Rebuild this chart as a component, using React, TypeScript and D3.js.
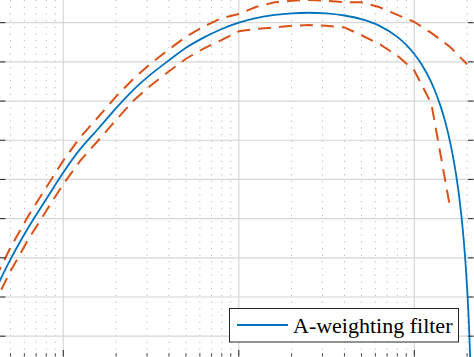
import React from "react";
import * as d3 from "d3";

const W = 474;
const H = 357;

// Blue curve: digital A-weighting filter response (Hz, dB)
const A_FREQ = [40, 50, 63, 80, 100, 125, 160, 200, 250, 315, 400, 500, 630, 800, 1000, 1250, 1600, 2000, 2500, 3150, 4000, 5000, 6300, 8000, 9000, 10000, 11000, 12500, 13000, 14000, 15000, 16000, 17000, 18000, 19000, 19500, 20000, 20500, 20800, 21000];
const A_DB = [-34.6, -30.2, -26.2, -22.5, -19.1, -16.1, -13.4, -10.9, -8.6, -6.6, -4.8, -3.2, -1.9, -0.8, 0.0, 0.58, 0.99, 1.2, 1.27, 1.19, 0.92, 0.45, -0.38, -1.81, -2.82, -3.99, -5.3, -7.61, -8.49, -10.42, -12.62, -15.24, -18.34, -22.1, -26.99, -30.1, -33.89, -38.74, -42.47, -45.5];

// Red dashed: tolerance limits (Hz, dB)
const TOL_FREQ = [31.5, 40, 50, 63, 80, 100, 125, 160, 200, 250, 315, 400, 500, 630, 800, 1000, 1250, 1600, 2000, 2500, 3150, 4000, 5000, 6300, 8000, 10000, 12500, 16000, 20000];
const UPPER_DB = [-37.4, -33.1, -28.7, -24.7, -21.0, -17.6, -14.6, -11.9, -9.4, -7.2, -5.2, -3.4, -1.8, -0.5, 0.6, 1.1, 2.0, 2.6, 2.8, 2.9, 2.8, 2.6, 2.6, 2.0, 1.0, 0.1, -1.3, -3.1, -5.3];
const LOWER_DB = [-41.4, -36.1, -31.7, -27.7, -24.0, -20.6, -17.6, -14.9, -12.4, -10.0, -8.0, -6.2, -4.6, -3.3, -2.2, -1.1, -0.8, -0.6, -0.4, -0.3, -0.4, -0.6, -1.6, -2.7, -4.2, -6.1, -10.3, -23.6];

const X_MAJOR = [100, 1000, 10000];
const DECADES = [10, 100, 1000, 10000];
const MINOR_K = [2, 3, 4, 5, 6, 7, 8, 9];
const Y_TICKS = [0, -5, -10, -15, -20, -25, -30, -35, -40];
const LEGEND_LABEL = "A-weighting filter";

const BLUE = "#0072BD";
const RED = "#D95319";
const AXIS = "#262626";

export default function App() {
  React.useEffect(() => {
    document.body.style.margin = "0";
  }, []);

  const x = d3.scaleLog().domain([100, 10000]).range([63.3, 414.3]);
  const y = d3.scaleLinear().domain([0, -40]).range([22.7, 336.2]);

  const minors: number[] = [];
  DECADES.forEach((d) =>
    MINOR_K.forEach((k) => {
      const px = x(d * k);
      if (px > -2 && px < W + 2) minors.push(d * k);
    })
  );

  const blueLine = d3
    .line<number>()
    .x((_, i) => x(A_FREQ[i]))
    .y((v) => y(v))
    .curve(d3.curveMonotoneX);

  const tolLine = d3
    .line<number>()
    .x((_, i) => x(TOL_FREQ[i]))
    .y((v) => y(v));

  const axisRight = W - 0.5;
  const axisBottom = H - 0.5;

  return (
    <svg
      width={W}
      height={H}
      style={{ position: "absolute", left: 0, top: 0, background: "#fff", display: "block" }}
    >
      <rect x={0} y={0} width={W} height={H} fill="#fff" />
      {/* minor vertical grid */}
      {minors.map((f) => (
        <line
          key={"mg" + f}
          x1={x(f)}
          x2={x(f)}
          y1={0}
          y2={H}
          stroke="#b8b8b8"
          strokeWidth={1}
          strokeDasharray="1.2,5.5"
        />
      ))}
      {/* major grid */}
      {X_MAJOR.map((f) => (
        <line key={"gx" + f} x1={x(f)} x2={x(f)} y1={0} y2={H} stroke="#d6d6d6" strokeWidth={1.2} />
      ))}
      {Y_TICKS.map((v) => (
        <line key={"gy" + v} x1={0} x2={W} y1={y(v)} y2={y(v)} stroke="#d6d6d6" strokeWidth={1.2} />
      ))}

      {/* tolerance curves */}
      <path d={tolLine(UPPER_DB) || ""} fill="none" stroke={RED} strokeWidth={2} strokeDasharray="13,8" />
      <path d={tolLine(LOWER_DB) || ""} fill="none" stroke={RED} strokeWidth={2} strokeDasharray="13,8" />

      {/* A-weighting response */}
      <path d={blueLine(A_DB) || ""} fill="none" stroke={BLUE} strokeWidth={1.8} />

      {/* ticks */}
      {Y_TICKS.map((v) => (
        <g key={"ty" + v}>
          <line x1={0} x2={5.5} y1={y(v)} y2={y(v)} stroke={AXIS} strokeWidth={1} />
          <line x1={axisRight - 5.5} x2={axisRight} y1={y(v)} y2={y(v)} stroke={AXIS} strokeWidth={1} />
        </g>
      ))}
      {X_MAJOR.map((f) => (
        <line key={"tx" + f} x1={x(f)} x2={x(f)} y1={axisBottom - 6.5} y2={axisBottom} stroke={AXIS} strokeWidth={1} />
      ))}
      {minors.map((f) => (
        <line key={"tmx" + f} x1={x(f)} x2={x(f)} y1={axisBottom - 3.5} y2={axisBottom} stroke={AXIS} strokeWidth={0.8} />
      ))}

      {/* legend */}
      <rect x={229.5} y={308.5} width={229} height={33.5} fill="#fff" stroke={AXIS} strokeWidth={1} />
      <line x1={237} x2={288} y1={325} y2={325} stroke={BLUE} strokeWidth={1.8} />
      <text
        x={293}
        y={333}
        fontFamily="'Liberation Serif', 'Times New Roman', serif"
        fontSize={22}
        fill="#000"
      >
        {LEGEND_LABEL}
      </text>
    </svg>
  );
}
